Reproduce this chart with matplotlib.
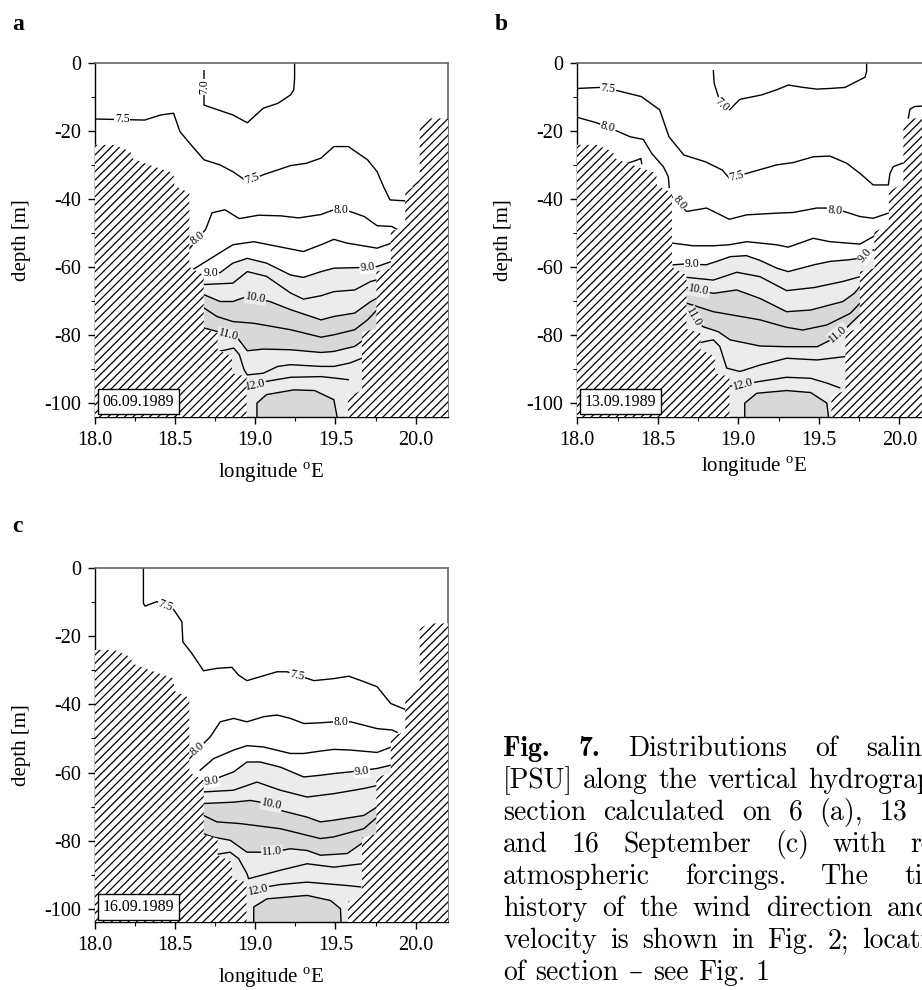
import matplotlib
matplotlib.use('Agg')
import matplotlib.pyplot as plt
from matplotlib.patches import Polygon

plt.rcParams['font.family'] = ['Liberation Serif', 'DejaVu Serif']
plt.rcParams['mathtext.fontset'] = 'custom'
plt.rcParams['mathtext.rm'] = 'Liberation Serif'
plt.rcParams['hatch.linewidth'] = 0.9
plt.rcParams['hatch.color'] = 'black'

W, H = 922, 990
LIGHT = '#ececec'
MEDIUM = '#d8d8d8'

x_ticks = [18.0, 18.5, 19.0, 19.5, 20.0]
x_ticklabels = ['18.0', '18.5', '19.0', '19.5', '20.0']
x_minor = [18.25, 18.75, 19.25, 19.75]
y_ticks = [0, -20, -40, -60, -80, -100]
y_ticklabels = ['0', '-20', '-40', '-60', '-80', '-100']
y_minor = [-10, -30, -50, -70, -90]

# sea bed along the section (lon, depth) - same for all dates
land_left = [(17.9, -24.0), (18.12, -24.0), (18.22, -26.0), (18.235, -28.0), (18.31, -29.4),
             (18.40, -30.9), (18.49, -32.3), (18.495, -36.0), (18.588, -38.1), (18.588, -60.0),
             (18.678, -62.3), (18.678, -78.2), (18.765, -79.4), (18.765, -84.3), (18.855, -86.3),
             (18.855, -91.2), (18.945, -92.2), (18.945, -110.0), (17.9, -110.0)]
land_right = [(20.3, -16.2), (20.09, -16.2), (20.025, -17.6), (20.025, -35.0), (19.99, -36.3),
              (19.935, -37.7), (19.935, -48.0), (19.845, -49.5), (19.845, -60.3), (19.755, -61.3),
              (19.755, -78.0), (19.665, -79.2), (19.665, -96.3), (19.578, -98.0), (19.578, -110.0),
              (20.3, -110.0)]

# ---- 06.09.1989 isohalines (lon, depth)
a_70 = [(18.68, -2.2), (18.68, -12.3), (18.86, -15.2), (18.95, -17.5), (19.05, -13.2), (19.14, -11.8),
        (19.22, -9.3), (19.24, -7.8), (19.245, -4.4), (19.245, 0.0)]
a_75 = [(18.0, -16.4), (18.31, -16.7), (18.41, -15.2), (18.49, -14.7), (18.53, -20.1), (18.59, -23.5),
        (18.68, -28.4), (18.78, -29.9), (18.86, -31.9), (18.95, -34.8), (19.05, -32.8), (19.22, -30.1),
        (19.32, -29.4), (19.41, -27.9), (19.49, -24.5), (19.58, -24.5), (19.70, -28.4), (19.76, -31.9),
        (19.80, -36.3), (19.84, -40.2), (19.94, -40.5)]
a_75b = [(19.985, -36.3), (20.03, -34.3)]
a_80 = [(18.59, -54.5), (18.69, -48.9), (18.73, -44.0), (18.81, -43.1), (18.90, -45.7), (19.02, -44.7),
        (19.16, -44.9), (19.27, -45.5), (19.41, -44.5), (19.49, -43.1), (19.59, -43.6), (19.68, -45.1),
        (19.76, -47.8), (19.85, -48.0), (19.89, -49.0)]
a_85 = [(18.60, -61.0), (18.74, -56.9), (18.86, -53.4), (18.99, -52.5), (19.14, -53.9), (19.30, -55.4),
        (19.41, -53.4), (19.49, -51.8), (19.57, -52.9), (19.76, -54.4), (19.85, -52.9)]
a_90 = [(18.68, -62.0), (18.78, -61.6), (18.86, -58.8), (18.95, -57.4), (19.07, -58.8), (19.22, -62.3),
        (19.30, -63.0), (19.41, -61.3), (19.49, -60.3), (19.66, -60.1), (19.76, -59.8), (19.85, -58.3)]
a_95 = [(18.68, -65.1), (18.86, -64.7), (18.95, -61.3), (19.07, -62.7), (19.22, -67.6), (19.30, -69.4),
        (19.41, -68.4), (19.49, -67.2), (19.62, -66.7), (19.72, -64.2), (19.76, -63.7)]
a_100 = [(18.68, -68.1), (18.78, -70.1), (18.86, -70.1), (18.95, -68.6), (19.09, -70.1), (19.22, -72.5),
         (19.41, -75.5), (19.49, -74.5), (19.62, -73.5), (19.72, -70.1), (19.76, -69.1)]
a_105 = [(18.68, -72.0), (18.76, -74.5), (18.86, -76.0), (18.99, -76.5), (19.22, -78.4), (19.41, -80.6),
         (19.49, -79.9), (19.62, -78.4), (19.70, -75.5), (19.76, -72.5)]
a_110 = [(18.68, -77.9), (18.76, -78.9), (18.89, -80.9), (18.95, -84.6), (19.05, -84.1), (19.22, -84.3),
         (19.41, -85.1), (19.49, -84.8), (19.62, -83.3), (19.67, -81.6)]
a_115 = [(18.77, -84.8), (18.82, -84.3), (18.865, -83.8), (18.90, -85.7), (18.93, -90.2), (18.95, -91.7),
         (19.05, -91.2), (19.14, -89.2), (19.22, -88.7), (19.41, -89.2), (19.49, -89.2), (19.59, -88.2),
         (19.67, -86.7)]
a_120 = [(18.95, -95.6), (19.07, -93.6), (19.22, -92.4), (19.41, -92.2), (19.49, -92.6), (19.58, -93.1)]
a_125 = [(19.01, -104.0), (19.01, -100.0), (19.07, -97.5), (19.24, -96.1), (19.37, -96.3), (19.49, -99.0),
         (19.51, -104.0)]
a_labels = [('7.0', 18.68, -7.0, 90), ('7.5', 18.17, -16.5, 0), ('7.5', 18.98, -34.0, 20),
            ('8.0', 18.64, -51.5, 38), ('8.0', 19.535, -43.2, 0), ('9.0', 18.725, -61.8, 0),
            ('9.0', 19.70, -60.0, 5), ('10.0', 19.0, -69.0, -10), ('11.0', 18.83, -80.0, -15),
            ('12.0', 19.0, -94.7, 12)]

# ---- 13.09.1989
b_70 = [(18.845, -2.2), (18.85, -5.9), (18.876, -9.8), (18.944, -13.7), (19.01, -10.6), (19.073, -10.0),
        (19.145, -9.3), (19.238, -7.8), (19.31, -6.4), (19.404, -7.1), (19.487, -7.6), (19.569, -7.4),
        (19.662, -7.1), (19.787, -4.1), (19.797, -2.4), (19.797, 0.0)]
b_75 = [(18.0, -7.4), (18.141, -7.1), (18.244, -8.0), (18.398, -9.8), (18.512, -13.7), (18.569, -21.6),
        (18.662, -27.0), (18.797, -29.0), (18.9, -31.4), (18.944, -33.8), (19.052, -32.4), (19.238, -29.9),
        (19.342, -29.2), (19.466, -27.5), (19.569, -27.3), (19.673, -29.4), (19.756, -32.4), (19.838, -35.8),
        (19.932, -35.8), (19.942, -32.4), (19.963, -30.4), (20.019, -29.4)]
b_75b = [(20.056, -16.1), (20.066, -13.5), (20.097, -12.7), (20.25, -12.3)]
b_80a = [(18.0, -15.9), (18.12, -17.5), (18.255, -20.1), (18.327, -21.6), (18.41, -22.4), (18.462, -26.5),
         (18.534, -30.4), (18.565, -33.3), (18.571, -36.5)]
b_80b = [(18.30, -29.6), (18.37, -28.5), (18.395, -28.0), (18.40, -29.5)]
b_80 = [(18.586, -39.2), (18.679, -43.6), (18.803, -42.6), (18.944, -45.9), (19.052, -44.6), (19.238, -44.1),
        (19.342, -43.9), (19.487, -42.6), (19.569, -42.6), (19.65, -43.5), (19.756, -45.1), (19.838, -45.6),
        (19.932, -44.1)]
b_85 = [(18.586, -52.9), (18.72, -53.7), (18.845, -53.7), (18.944, -53.4), (19.052, -52.5), (19.238, -53.4),
        (19.31, -54.1), (19.466, -51.5), (19.569, -52.5), (19.756, -53.2), (19.838, -51.0), (19.90, -49.0)]
b_90 = [(18.596, -59.3), (18.68, -59.0), (18.80, -59.3), (18.865, -58.3), (18.95, -56.9), (19.05, -56.6),
        (19.135, -58.0), (19.24, -60.3), (19.31, -61.3), (19.47, -59.3), (19.57, -58.3), (19.69, -57.8),
        (19.76, -57.3), (19.84, -54.9)]
b_95 = [(18.68, -63.0), (18.845, -63.8), (18.99, -61.5), (19.135, -62.8), (19.30, -66.9), (19.47, -66.0),
        (19.65, -64.2), (19.756, -62.8)]
b_100 = [(18.68, -66.0), (18.845, -67.7), (18.99, -66.7), (19.135, -69.2), (19.30, -73.1), (19.45, -72.6),
         (19.65, -70.1), (19.72, -67.7), (19.756, -65.7)]
b_105 = [(18.68, -70.6), (18.845, -73.1), (19.135, -75.5), (19.30, -77.7), (19.40, -78.5), (19.55, -77.0),
         (19.695, -73.6), (19.756, -70.6)]
b_110 = [(18.68, -73.5), (18.72, -74.5), (18.78, -77.5), (18.876, -79.0), (18.95, -81.4), (19.135, -83.2),
         (19.30, -83.4), (19.49, -83.4), (19.57, -81.5), (19.65, -79.0), (19.70, -76.5), (19.756, -74.0)]
b_115 = [(18.765, -82.2), (18.80, -81.8), (18.845, -81.4), (18.885, -83.3), (18.928, -89.7), (19.01, -90.7),
         (19.135, -88.8), (19.30, -86.8), (19.49, -87.3), (19.665, -86.3)]
b_120 = [(18.95, -95.0), (19.02, -94.6), (19.135, -93.6), (19.30, -92.4), (19.45, -92.7), (19.55, -94.1),
         (19.63, -95.5)]
b_125 = [(19.04, -104.0), (19.04, -100.0), (19.115, -97.1), (19.30, -96.3), (19.45, -96.9), (19.55, -100.0),
         (19.56, -104.0)]
b_labels = [('7.5', 18.19, -7.6, -5), ('7.0', 18.90, -12.3, -42), ('8.0', 18.19, -18.8, -15),
            ('7.5', 18.99, -33.2, 15), ('8.0', 18.635, -41.0, -50), ('8.0', 19.60, -43.3, -5),
            ('9.0', 18.715, -59.0, 0), ('9.0', 19.79, -56.5, 50), ('10.0', 18.755, -66.8, -10),
            ('11.0', 18.725, -74.8, -60), ('11.0', 19.62, -79.6, 40), ('12.0', 19.03, -94.4, 15)]

# ---- 16.09.1989
c_75 = [(18.302, 0.0), (18.302, -10.3), (18.3125, -11.1), (18.385, -9.8), (18.49, -12.1), (18.542, -15.7),
        (18.548, -21.6), (18.604, -25.0), (18.677, -30.1), (18.76, -29.4), (18.854, -29.1), (18.896, -31.4),
        (18.948, -33.0), (19.135, -30.4), (19.198, -30.4), (19.365, -33.0), (19.49, -32.4), (19.583, -31.7),
        (19.677, -33.3), (19.76, -34.8), (19.844, -39.7), (19.9375, -41.5)]
c_80 = [(18.59, -55.9), (18.656, -52.5), (18.719, -49.5), (18.781, -45.1), (18.865, -44.1), (18.948, -45.1),
        (19.052, -43.6), (19.135, -43.1), (19.219, -44.1), (19.302, -45.6), (19.406, -45.4), (19.49, -45.1),
        (19.594, -45.1), (19.677, -46.1), (19.76, -47.1), (19.854, -47.5), (19.885, -48.2)]
c_85 = [(18.656, -59.3), (18.74, -55.9), (18.865, -53.4), (18.948, -52.1), (19.052, -52.5), (19.219, -54.4),
        (19.302, -54.4), (19.406, -53.7), (19.49, -53.2), (19.594, -53.4), (19.76, -54.1), (19.848, -52.5)]
c_90 = [(18.681, -63.2), (18.781, -61.3), (18.865, -59.8), (18.948, -56.9), (19.03, -56.9), (19.156, -58.4),
        (19.302, -61.3), (19.406, -60.8), (19.49, -60.3), (19.594, -59.8), (19.76, -58.8), (19.848, -57.8)]
c_95 = [(18.677, -65.7), (18.864, -65.2), (19.01, -62.8), (19.156, -65.2), (19.323, -67.2), (19.49, -66.2),
        (19.677, -64.7), (19.76, -63.8)]
c_100 = [(18.677, -69.1), (18.864, -68.7), (18.968, -68.2), (19.031, -68.7), (19.156, -71.1), (19.323, -73.1),
         (19.406, -74.5), (19.49, -74.0), (19.677, -72.6), (19.76, -70.1)]
c_105 = [(18.677, -72.6), (18.76, -74.5), (18.906, -75.0), (19.156, -76.5), (19.406, -79.4), (19.49, -78.9),
         (19.677, -76.5), (19.76, -73.1)]
c_110 = [(18.677, -78.0), (18.74, -79.0), (18.843, -79.9), (18.948, -83.4), (19.104, -83.4), (19.218, -82.4),
         (19.323, -82.9), (19.406, -84.3), (19.573, -83.8), (19.677, -80.4)]
c_115 = [(18.765, -84.0), (18.843, -83.4), (18.896, -85.3), (18.948, -89.7), (18.958, -91.2), (19.156, -88.7),
         (19.323, -86.8), (19.49, -87.8), (19.665, -86.8)]
c_120 = [(18.958, -95.1), (19.093, -93.4), (19.156, -92.9), (19.323, -92.2), (19.448, -92.7), (19.573, -93.2),
         (19.656, -93.6)]
c_125 = [(18.99, -104.0), (18.99, -99.5), (19.073, -97.1), (19.323, -96.1), (19.469, -97.6), (19.531, -100.0),
         (19.535, -104.0)]
c_labels = [('7.5', 18.44, -11.0, -20), ('7.5', 19.26, -31.6, -12), ('8.0', 18.64, -53.0, 40),
            ('8.0', 19.535, -45.1, 0), ('9.0', 18.725, -62.5, 8), ('9.0', 19.665, -59.6, 5),
            ('10.0', 19.10, -69.4, -12), ('11.0', 19.104, -83.3, 3), ('12.0', 19.02, -94.4, 12)]

caption = ['Fig. 7. Distributions of salinity',
           '[PSU] along the vertical hydrographic',
           'section calculated on 6 (a), 13 (b)',
           'and 16 September (c) with real',
           'atmospheric forcings. The time',
           'history of the wind direction and',
           'velocity is shown in Fig. 2; location',
           'of section \u2013 see Fig. 1']
# right end (px) of each justified caption line
cap_right = [955, 968, 962, 955, 958, 932, 958]

panels = [
    # letter, date, isolines, labels, axes box in px (left, top, right, bottom), letter xy, xlabel offset
    ('a', '06.09.1989',
     [(7.0, a_70), (7.5, a_75), (7.5, a_75b), (8.0, a_80), (8.5, a_85), (9.0, a_90), (9.5, a_95),
      (10.0, a_100), (10.5, a_105), (11.0, a_110), (11.5, a_115), (12.0, a_120), (12.5, a_125)],
     a_labels, (95, 63.3, 447.7, 416.7), (12, 30), -0.159),
    ('b', '13.09.1989',
     [(7.0, b_70), (7.5, b_75), (7.5, b_75b), (8.0, b_80a), (8.0, b_80b), (8.0, b_80), (8.5, b_85),
      (9.0, b_90), (9.5, b_95), (10.0, b_100), (10.5, b_105), (11.0, b_110), (11.5, b_115),
      (12.0, b_120), (12.5, b_125)],
     b_labels, (577.3, 63.3, 931.5, 416.7), (495, 30), -0.142),
    ('c', '16.09.1989',
     [(7.5, c_75), (8.0, c_80), (8.5, c_85), (9.0, c_90), (9.5, c_95), (10.0, c_100), (10.5, c_105),
      (11.0, c_110), (11.5, c_115), (12.0, c_120), (12.5, c_125)],
     c_labels, (95, 568.3, 447.7, 922.3), (12, 532), -0.158),
]

fill_levels = [(9.0, LIGHT), (10.0, MEDIUM), (11.0, LIGHT), (12.5, MEDIUM)]

fig = plt.figure(figsize=(W / 100, H / 100), dpi=100)

for letter, date, lines, labels, box, lpos, xlab_y in panels:
    l, t, r, b = box
    ax = fig.add_axes([l / W, 1 - b / H, (r - l) / W, (b - t) / H])
    ax.set_xlim(18.0, 20.2)
    ax.set_ylim(-104, 0)

    # shaded salinity bands
    for lev, col in fill_levels:
        pts = [p for lv, p in lines if lv == lev][0]
        poly = [(pts[0][0], -110)] + pts + [(pts[-1][0], -110)]
        ax.add_patch(Polygon(poly, closed=True, facecolor=col, edgecolor='none', zorder=1))

    for lev, pts in lines:
        ax.plot([p[0] for p in pts], [p[1] for p in pts], color='black', lw=1.0, zorder=2)

    for txt, x, y, rot in labels:
        bg = 'white' if float(txt) <= 9.0 else LIGHT
        ax.text(x, y, txt, fontsize=8.5, rotation=rot, ha='center', va='center', zorder=3,
                rotation_mode='anchor',
                bbox=dict(boxstyle='square,pad=0.06', fc=bg, ec='none'))

    for land in (land_left, land_right):
        ax.add_patch(Polygon(land, closed=True, facecolor='white', edgecolor='black', lw=0,
                             hatch='////', zorder=4))

    ax.text(0.123, 0.043, date, transform=ax.transAxes, fontsize=11.5, ha='center', va='center',
            zorder=6, bbox=dict(boxstyle='square,pad=0.3', fc='white', ec='black', lw=1.0))

    ax.set_xticks(x_ticks)
    ax.set_xticklabels(x_ticklabels)
    ax.set_xticks(x_minor, minor=True)
    ax.set_yticks(y_ticks)
    ax.set_yticklabels(y_ticklabels)
    ax.set_yticks(y_minor, minor=True)
    ax.tick_params(which='major', direction='out', length=5, width=1, labelsize=14.5, pad=5)
    ax.tick_params(which='minor', direction='out', length=3, width=0.8)
    for s in ('top', 'right'):
        ax.spines[s].set_color('#666666')
        ax.spines[s].set_linewidth(1.2)
    for s in ('left', 'bottom'):
        ax.spines[s].set_linewidth(1.0)

    ax.text(-0.207, 0.5, 'depth [m]', transform=ax.transAxes, rotation=90, fontsize=15,
            ha='center', va='center')
    ax.text(0.5, xlab_y, 'longitude $^{\\mathrm{o}}$E', transform=ax.transAxes, fontsize=15,
            ha='center', va='center')

    fig.text(lpos[0] / W, 1 - lpos[1] / H, letter, fontsize=17, fontweight='bold', va='baseline')

# caption, justified between x0 and the line's right end (px)
fig.canvas.draw()
rend = fig.canvas.get_renderer()
x0 = 503
for i, line in enumerate(caption):
    yb = 756 + 32 * i
    objs = []
    for w in line.split():
        bold = i == 0 and w in ('Fig.', '7.')
        fam = ['cmb10' if bold else 'cmr10', 'DejaVu Serif']
        objs.append(fig.text(0, 1 - yb / H, w, fontsize=20, family=fam, va='baseline'))
    widths = [o.get_window_extent(rend).width for o in objs]
    if i < len(cap_right):
        gap = max((cap_right[i] - x0 - sum(widths)) / (len(objs) - 1), 6)
    else:
        gap = 10
    x = x0
    for o, w in zip(objs, widths):
        o.set_x(x / W)
        x += w + gap

fig.savefig('out.png', dpi=100)
